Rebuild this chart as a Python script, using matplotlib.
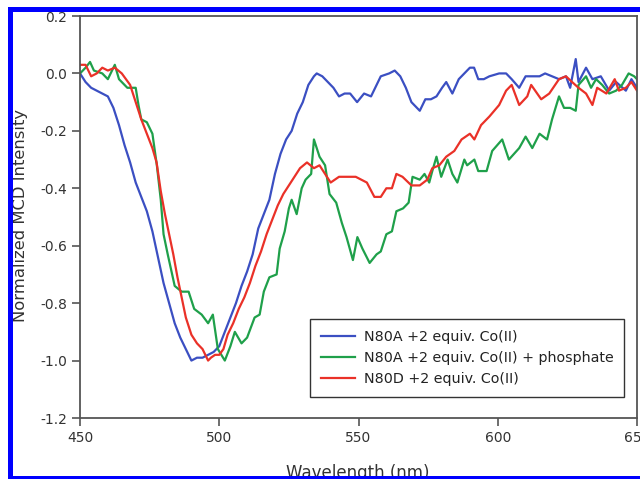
import matplotlib
matplotlib.use("Agg")
import matplotlib.pyplot as plt
from matplotlib.patches import Rectangle

plt.rcParams['font.family'] = ['DejaVu Sans']
plt.rcParams['axes.unicode_minus'] = False

# ---- data ----
wl_blue = [450, 452, 454, 456, 458, 460, 462, 464, 466, 468, 470, 472, 474, 476, 478, 480, 482, 484,
           486, 488, 490, 492, 494, 496, 498, 500, 502, 504, 506, 508, 510, 512, 514, 516, 518, 520,
           522, 524, 526, 528, 530, 532, 534, 535, 537, 539, 541, 543, 545, 547, 549.5, 552, 554.5,
           556, 558, 561, 563, 565, 567, 569, 572, 574, 576, 578, 580, 581.5, 583.7, 586, 588, 590,
           591.5, 593, 595, 597, 600.5, 603, 605, 607.7, 610, 612, 615, 617, 619.5, 622, 624.5, 626,
           628, 629, 631.7, 634, 637, 640, 642.5, 646, 648, 650]
mcd_blue = [0.00, -0.03, -0.05, -0.06, -0.07, -0.08, -0.12, -0.18, -0.25, -0.31, -0.38, -0.43, -0.48,
            -0.55, -0.64, -0.73, -0.80, -0.87, -0.92, -0.96, -1.00, -0.99, -0.99, -0.98, -0.97, -0.95,
            -0.90, -0.85, -0.80, -0.74, -0.69, -0.63, -0.54, -0.49, -0.44, -0.35, -0.28, -0.23, -0.20,
            -0.14, -0.10, -0.04, -0.01, 0.00, -0.01, -0.03, -0.05, -0.08, -0.07, -0.07, -0.10, -0.07,
            -0.08, -0.05, -0.01, 0.00, 0.01, -0.01, -0.05, -0.10, -0.13, -0.09, -0.09, -0.08, -0.05,
            -0.03, -0.07, -0.02, 0.00, 0.02, 0.02, -0.02, -0.02, -0.01, 0.00, 0.00, -0.02, -0.05,
            -0.01, -0.01, -0.01, 0.00, -0.01, -0.02, -0.01, -0.05, 0.05, -0.03, 0.02, -0.02, -0.01,
            -0.06, -0.03, -0.06, -0.02, -0.05]

wl_green = [450, 452, 453.6, 455, 458, 460, 462.5, 464, 467, 470, 471, 472, 474, 476, 477.6, 479, 480,
            481.5, 484, 486.5, 489, 491, 493.7, 496, 497.7, 499.5, 502, 504, 505.6, 508, 510, 512.7,
            514.5, 516, 518, 520.6, 521.7, 523.5, 525, 526, 527.8, 529.6, 531, 533, 534, 536, 538,
            539.6, 542, 544, 545.7, 548, 549.6, 551.4, 554, 556.5, 558, 560, 562, 563.6, 566, 568,
            569.4, 572, 573.7, 575.4, 576.5, 578, 579.7, 582, 583.7, 585.5, 588, 589, 591.6, 593,
            596, 598, 601.6, 604, 607.7, 610, 612.4, 615, 617.7, 619.5, 622, 623.8, 626, 628, 629,
            631.7, 633.5, 635.3, 637.5, 640, 642.5, 644.6, 647, 649, 650]
mcd_green = [0.00, 0.02, 0.04, 0.01, 0.00, -0.02, 0.03, -0.02, -0.05, -0.05, -0.11, -0.16, -0.17,
             -0.21, -0.32, -0.44, -0.56, -0.63, -0.74, -0.76, -0.76, -0.82, -0.84, -0.87, -0.84,
             -0.96, -1.00, -0.95, -0.90, -0.94, -0.92, -0.85, -0.84, -0.76, -0.71, -0.70, -0.61,
             -0.55, -0.47, -0.44, -0.49, -0.40, -0.37, -0.35, -0.23, -0.29, -0.32, -0.42, -0.45,
             -0.52, -0.57, -0.65, -0.57, -0.61, -0.66, -0.63, -0.62, -0.56, -0.55, -0.48, -0.47,
             -0.45, -0.36, -0.37, -0.35, -0.38, -0.34, -0.29, -0.36, -0.30, -0.35, -0.38, -0.30,
             -0.32, -0.30, -0.34, -0.34, -0.27, -0.23, -0.30, -0.26, -0.22, -0.26, -0.21, -0.23,
             -0.16, -0.08, -0.12, -0.12, -0.13, -0.04, -0.01, -0.05, -0.02, -0.04, -0.07, -0.06,
             -0.04, 0.00, -0.01, -0.02]

wl_red = [450, 452, 454, 456, 458, 460, 462.5, 465, 468, 470, 472, 474, 476, 477.5, 479, 480.5, 482,
          483.5, 485, 486.5, 488, 490, 492, 494, 496, 497, 498.5, 500, 501.5, 503, 505, 507, 509, 511,
          513, 515, 517, 519, 521, 523, 525, 527, 529, 531.5, 534, 536, 538, 540, 543, 547, 549, 553,
          555.7, 558, 560, 562, 563.6, 565.8, 569, 572, 574.7, 576.5, 579, 581.5, 584.4, 587, 590,
          591.6, 594, 597, 600.5, 603, 605, 607.7, 610.6, 612, 615.6, 618.5, 622, 624.5, 626.7, 629,
          631.7, 634, 635.7, 639, 642, 643.5, 646, 648, 650]
mcd_red = [0.03, 0.03, -0.01, 0.00, 0.02, 0.01, 0.02, 0.00, -0.04, -0.10, -0.16, -0.21, -0.26, -0.31,
           -0.41, -0.49, -0.56, -0.63, -0.71, -0.78, -0.85, -0.91, -0.94, -0.96, -1.00, -0.99, -0.98,
           -0.98, -0.96, -0.91, -0.87, -0.82, -0.78, -0.73, -0.67, -0.62, -0.56, -0.51, -0.46, -0.42,
           -0.39, -0.36, -0.33, -0.31, -0.33, -0.32, -0.35, -0.38, -0.36, -0.36, -0.36, -0.38, -0.43,
           -0.43, -0.40, -0.40, -0.35, -0.36, -0.39, -0.39, -0.37, -0.33, -0.32, -0.29, -0.27, -0.23,
           -0.21, -0.23, -0.18, -0.15, -0.11, -0.06, -0.04, -0.11, -0.08, -0.04, -0.09, -0.07, -0.02,
           -0.01, -0.03, -0.05, -0.07, -0.11, -0.05, -0.07, -0.02, -0.06, -0.05, -0.03, -0.06]

labels = ["N80A +2 equiv. Co(II)",
          "N80A +2 equiv. Co(II) + phosphate",
          "N80D +2 equiv. Co(II)"]
x_ticks = [450, 500, 550, 600, 650]
y_ticks = [0.2, 0.0, -0.2, -0.4, -0.6, -0.8, -1.0, -1.2]

W, H = 640, 479
fig = plt.figure(figsize=(W / 100, H / 100), dpi=100)
fig.patch.set_facecolor('white')
ax = fig.add_axes([80 / W, 1 - 418 / H, 557 / W, 402 / H])

ax.plot(wl_blue, mcd_blue, color='#3b4fc2', lw=1.6, label=labels[0])
ax.plot(wl_green, mcd_green, color='#1fa04a', lw=1.6, label=labels[1])
ax.plot(wl_red, mcd_red, color='#ea3128', lw=1.6, label=labels[2])

ax.set_xlim(450, 650)
ax.set_ylim(-1.2, 0.2)
ax.set_xticks(x_ticks)
ax.set_yticks(y_ticks)
ax.set_yticklabels([f"{v:.1f}" for v in y_ticks])
ax.tick_params(direction='out', length=6, width=1.2, colors='#555555',
               labelcolor='#333333', labelsize=10, pad=3)
for s in ax.spines.values():
    s.set_color('#555555')
    s.set_linewidth(1.3)

leg = ax.legend(loc='lower right', bbox_to_anchor=(624 / W, 1 - 397 / H),
                bbox_transform=fig.transFigure, borderaxespad=0, fontsize=10.3,
                fancybox=False, framealpha=1, edgecolor='#333333',
                handlelength=2.4, handletextpad=0.6, labelspacing=0.5,
                borderpad=0.75)
leg.get_frame().set_linewidth(1.0)
for t in leg.get_texts():
    t.set_color('#222222')

fig.text(358 / W, 1 - 478 / H, "Wavelength (nm)", ha='center', va='baseline',
         fontsize=12, color='#333333')
fig.text(25 / W, 1 - 215 / H, "Normalized MCD Intensity", rotation=90,
         rotation_mode='anchor', ha='center', va='baseline', fontsize=11.8,
         color='#333333')

# blue frame of the cropped figure
ov = fig.add_axes([0, 0, 1, 1], zorder=10)
ov.set_xlim(0, W)
ov.set_ylim(H, 0)
ov.axis('off')
ov.patch.set_alpha(0)
ov.add_patch(Rectangle((0, 0), W, 7, color='white', lw=0))
ov.add_patch(Rectangle((0, 0), 8, H, color='white', lw=0))
ov.add_patch(Rectangle((8, 7), W - 8, 5, color='#0000ff', lw=0))
ov.add_patch(Rectangle((8, 7), 5, H - 7, color='#0000ff', lw=0))
ov.add_patch(Rectangle((8, 476), W - 8, 3, color='#0000ff', lw=0))

fig.savefig("out.png", dpi=100)
